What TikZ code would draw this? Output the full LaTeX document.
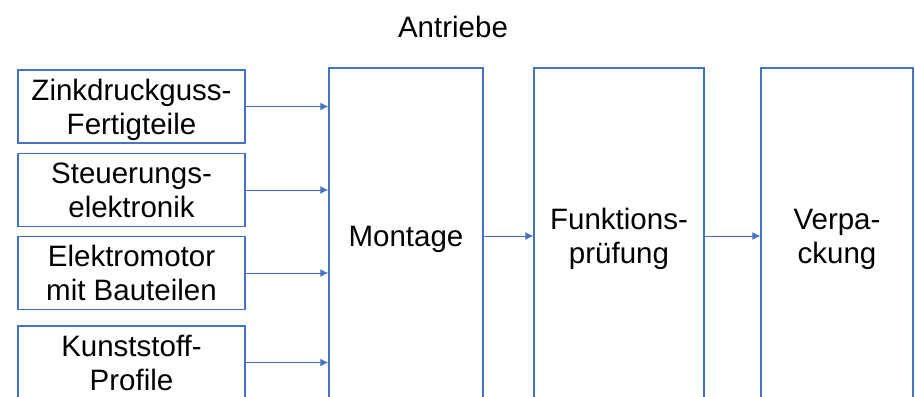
\documentclass[tikz,border=0pt]{standalone}
\usepackage{fontspec}
\setmainfont{Liberation Sans}
\usetikzlibrary{arrows.meta}

\definecolor{boxblue}{HTML}{4472C4}

\tikzset{
  box/.style={draw=boxblue, line width=0.75pt, align=center, inner sep=0pt,
    text depth=0pt, font=\fontsize{14.75}{17}\selectfont},
  arr/.style={draw=boxblue, line width=0.5pt, -{Latex[length=4pt,width=4pt]}}
}

\begin{document}
\begin{tikzpicture}[x=0.5pt,y=-0.5pt]
  \useasboundingbox (0,0) rectangle (915,396);
  \clip (0,0) rectangle (915,396);

  \node[anchor=base, font=\fontsize{14.75}{17}\selectfont] (title) at (453,37) {Antriebe};

  \node[box, minimum width=113.5pt, minimum height=36.5pt] (zink) at (131.5,106.5) {Zinkdruckguss-\\Fertigteile};
  \node[box, minimum width=113.5pt, minimum height=36.5pt] (steu) at (131.5,190) {Steuerungs-\\elektronik};
  \node[box, minimum width=113.5pt, minimum height=36.5pt] (motor) at (131.5,273) {Elektromotor\\mit Bauteilen};
  \node[box, minimum width=113.5pt, minimum height=36.5pt] (kunst) at (131.5,362.5) {Kunststoff-\\Profile};

  \node[box, minimum width=77pt, minimum height=168pt] (mont) at (406,236) {Montage};
  \node[box, minimum width=85pt, minimum height=168pt] (fkt) at (619,236) {Funktions-\\prüfung};
  \node[box, minimum width=76pt, minimum height=168pt] (verp) at (837,236) {Verpa-\\ckung};

  \foreach \n in {zink,steu,motor,kunst}
    \draw[arr] (\n.east) -- (\n.east -| mont.west);
  \draw[arr] (mont) -- (fkt);
  \draw[arr] (fkt) -- (verp);
\end{tikzpicture}
\end{document}
